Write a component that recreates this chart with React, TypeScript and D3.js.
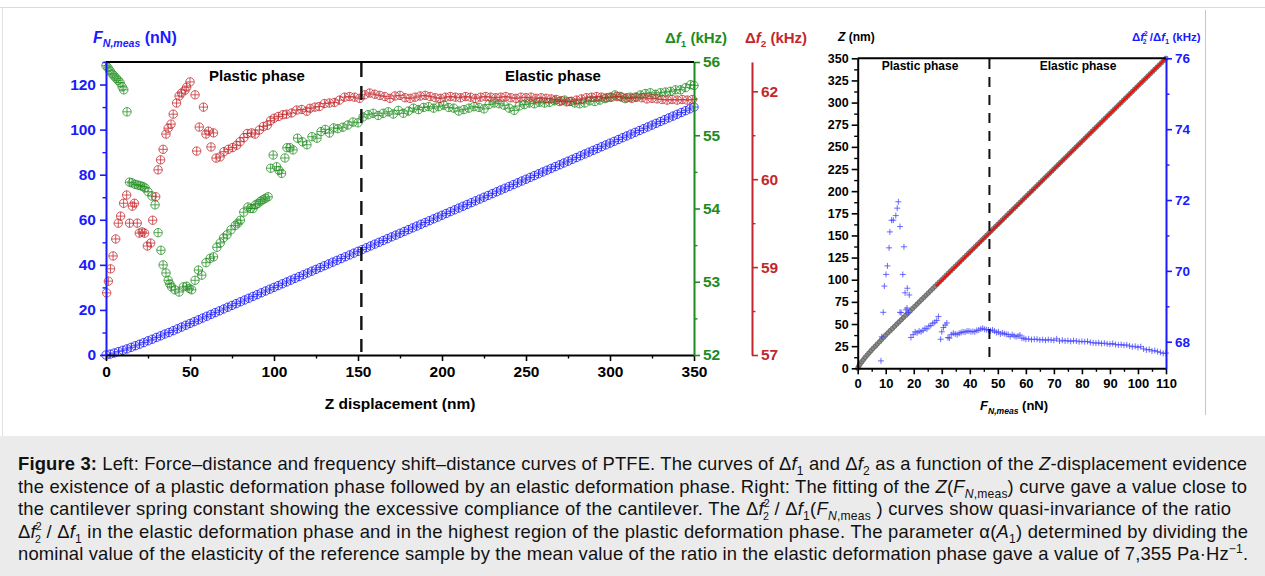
import React, { useEffect, useRef } from "react";
import * as d3 from "d3";

const FONT = "'Liberation Sans', Arial, sans-serif";
const BLUE = "#1a1aff";
const GREEN = "#1e8c1e";
const RED = "#c2272d";

// ---- left panel: F_N,meas, Δf1, Δf2 vs Z displacement ----
const zGrid = d3.range(0, 351, 2.5); // sampling positions of the force curve (nm)
const forceN = [
  0.0, 0.4, 0.9, 1.5, 2.1, 2.7, 3.4, 4.1, 4.8, 5.5, 6.3, 7.0, 7.8, 8.5, 9.3, 10.0, 10.8, 11.6, 12.4, 13.2, 14.0,
  14.8, 15.6, 16.4, 17.2, 18.0, 18.8, 19.6, 20.4, 21.2, 22.0, 22.8, 23.6, 24.4, 25.2, 26.0, 26.8, 27.6, 28.4, 29.2, 30.0,
  30.8, 31.6, 32.4, 33.2, 34.0, 34.8, 35.6, 36.4, 37.2, 38.0, 38.8, 39.6, 40.4, 41.2, 42.0, 42.8, 43.6, 44.4, 45.2, 46.0,
  46.8, 47.6, 48.4, 49.2, 50.0, 50.8, 51.6, 52.4, 53.2, 54.0, 54.8, 55.6, 56.4, 57.2, 58.0, 58.8, 59.6, 60.4, 61.2, 62.0,
  62.8, 63.6, 64.4, 65.2, 66.0, 66.8, 67.6, 68.4, 69.2, 70.0, 70.8, 71.6, 72.4, 73.2, 74.0, 74.8, 75.6, 76.4, 77.2, 78.0,
  78.8, 79.6, 80.4, 81.2, 82.0, 82.8, 83.6, 84.4, 85.2, 86.0, 86.8, 87.6, 88.4, 89.2, 90.0, 90.8, 91.6, 92.4, 93.2, 94.0,
  94.8, 95.6, 96.4, 97.2, 98.0, 98.8, 99.6, 100.4, 101.2, 102.0, 102.8, 103.6, 104.4, 105.2, 106.0, 106.8, 107.6, 108.4, 109.2, 110.0,
];

const df1Points: [number, number][] = [
  [0, 55.95], [1.2, 55.92], [2.4, 55.88], [3.6, 55.84], [4.8, 55.81], [6, 55.78], [7.2, 55.75], [8.4, 55.72], [9.6, 55.66],
  [10.6, 55.62], [12.5, 55.32], [14, 54.36], [15.5, 54.35], [17.3, 54.33], [19, 54.32], [20.5, 54.31], [22, 54.3], [23.2, 54.28],
  [25, 54.23], [27.4, 54.17], [29.2, 54.05], [31, 53.67], [32.7, 53.43], [34, 53.23], [35.7, 53.12], [37, 53.02], [38, 52.97],
  [39, 52.93], [41, 52.89], [43.5, 52.86], [46, 52.93], [48, 52.94], [49.5, 52.91], [51, 52.89], [53, 53.02], [55, 53.16],
  [57, 53.09], [59.5, 53.26], [62, 53.32], [64, 53.34], [66, 53.47], [68, 53.53], [70, 53.6], [72, 53.64], [74.4, 53.71],
  [77, 53.77], [78.5, 53.8], [80, 53.84], [82, 53.95], [84.5, 54.02], [86, 54.0], [87.5, 54.0], [89, 54.05], [90.5, 54.07],
  [92, 54.1], [93.5, 54.12], [95, 54.14], [96.5, 54.16], [98, 54.55], [99.5, 54.73], [101.5, 54.57], [103, 54.52], [104.5, 54.48],
  [106.5, 54.69], [107.7, 54.83], [109.5, 54.83], [111.3, 54.8], [114, 54.96], [117, 54.91], [119.6, 54.87], [122.6, 54.98],
  [125.6, 54.96], [128, 55.05], [130.5, 55.08], [133, 55.03], [135.5, 55.1], [138, 55.09], [141, 55.11], [144, 55.14],
  [147, 55.18], [150, 55.17], [153, 55.25], [156, 55.28], [159, 55.3], [162, 55.27], [165, 55.3], [168, 55.32], [171, 55.29],
  [174, 55.34], [177, 55.3], [180, 55.33], [183, 55.37], [186, 55.35], [189, 55.38], [192, 55.39], [195, 55.37], [198, 55.39],
  [201, 55.41], [204, 55.38], [207, 55.37], [210, 55.33], [213, 55.35], [216, 55.37], [219, 55.39], [222, 55.38], [225, 55.36],
  [228, 55.42], [231, 55.44], [234, 55.43], [237, 55.41], [240, 55.37], [243, 55.34], [246, 55.4], [249, 55.42], [252, 55.44],
  [255, 55.43], [258, 55.45], [261, 55.44], [264, 55.45], [267, 55.47], [270, 55.46], [273, 55.48], [276, 55.46], [279, 55.44],
  [282, 55.43], [285, 55.44], [288, 55.47], [291, 55.46], [294, 55.48], [297, 55.5], [300, 55.52], [303, 55.55], [306, 55.53],
  [309, 55.5], [312, 55.52], [315, 55.52], [318, 55.55], [321, 55.57], [324, 55.58], [327, 55.56], [330, 55.58], [333, 55.59],
  [336, 55.6], [339, 55.62], [342, 55.62], [345, 55.65], [348, 55.69], [350, 55.68],
];

const df2Points: [number, number][] = [
  [0.4, 58.06], [1.4, 58.26], [2.7, 58.47], [4.2, 58.69], [5.8, 58.98], [7.3, 59.25], [8.7, 59.37], [10.5, 59.59], [12.3, 59.73],
  [14, 59.25], [15.7, 59.54], [16.9, 59.59], [18.6, 59.25], [19.8, 59.08], [21.5, 59.1], [23, 59.08], [24.6, 58.86], [26.6, 58.91],
  [27.8, 59.3], [29.6, 59.7], [31, 60.16], [32.5, 60.33], [34, 60.51], [35.7, 60.77], [37, 60.87], [38.7, 60.94], [40, 61.11],
  [42, 61.3], [43.5, 61.42], [45, 61.47], [47, 61.52], [48, 61.57], [50, 61.66], [53, 61.44], [54, 60.48], [55.5, 60.89],
  [58, 61.23], [59.5, 60.77], [61, 60.82], [62.5, 60.55], [64, 60.79], [65.5, 60.36], [67.9, 60.38], [70.2, 60.47], [72.8, 60.51],
  [75.4, 60.54], [77.8, 60.58], [79.8, 60.64], [82.1, 60.71], [84.1, 60.78], [86.7, 60.79], [88.7, 60.77], [91.3, 60.84],
  [93.7, 60.9], [96, 60.92], [98, 61.0], [100, 61.04], [102.6, 61.07], [105.2, 61.1], [107.5, 61.11], [110.5, 61.13],
  [113.5, 61.18], [116.5, 61.19], [119.5, 61.16], [121.4, 61.21], [124.4, 61.23], [127, 61.24], [130, 61.29], [133, 61.3],
  [136, 61.31], [139, 61.35], [142, 61.4], [145, 61.41], [148, 61.4], [151, 61.38], [154, 61.44], [157, 61.47], [160, 61.45],
  [163, 61.43], [166, 61.41], [169, 61.38], [172, 61.42], [175, 61.43], [178, 61.39], [181, 61.38], [184, 61.4], [187, 61.42],
  [190, 61.43], [193, 61.41], [196, 61.39], [199, 61.38], [202, 61.4], [205, 61.41], [208, 61.4], [211, 61.39], [214, 61.41],
  [217, 61.4], [220, 61.38], [223, 61.4], [226, 61.41], [229, 61.4], [232, 61.39], [235, 61.4], [238, 61.41], [241, 61.39],
  [244, 61.38], [247, 61.4], [250, 61.39], [253, 61.4], [256, 61.38], [259, 61.39], [262, 61.38], [265, 61.37], [268, 61.36],
  [271, 61.34], [274, 61.32], [277, 61.33], [280, 61.35], [283, 61.37], [286, 61.39], [289, 61.4], [292, 61.41], [295, 61.4],
  [298, 61.39], [301, 61.4], [304, 61.41], [307, 61.4], [310, 61.39], [313, 61.38], [316, 61.4], [319, 61.39], [322, 61.37],
  [325, 61.38], [328, 61.37], [331, 61.36], [334, 61.35], [337, 61.36], [340, 61.35], [343, 61.36], [346, 61.35], [349, 61.36],
];

const zTicks = [0, 50, 100, 150, 200, 250, 300, 350];
const zMinor = [25, 75, 125, 175, 225, 275, 325];
const fTicks = [0, 20, 40, 60, 80, 100, 120];
const fMinor = [10, 30, 50, 70, 90, 110, 130];
const df1Ticks = [52, 53, 54, 55, 56];
const df1Minor = [52.5, 53.5, 54.5, 55.5];
const df2Ticks = [57, 58.5, 60, 61.5];
const df2Labels = ["57", "59", "60", "62"];
const df2Minor = [57.75, 59.25, 60.75];
const plasticEndZ = 152;

// ---- right panel: Z and Δf2²/Δf1 vs F_N,meas ----
const ratioPoints: [number, number][] = [
  [8.3, 67.46], [8.6, 68.14], [9.1, 68.83], [9.5, 69.57], [10.1, 69.9], [10.6, 70.14], [11.2, 70.65], [11.5, 71.1],
  [12.1, 71.43], [12.7, 71.43], [13.6, 71.56], [14.1, 71.77], [14.5, 71.95], [15.1, 71.25], [15.1, 68.83], [15.5, 68.82],
  [16.1, 69.9], [16.5, 70.68], [16.9, 69.38], [17.2, 68.9], [17.7, 69.51], [17.6, 68.95], [18.1, 68.82], [18.4, 69.32],
  [19.0, 68.12], [19.8, 68.2], [20.5, 68.28], [21.2, 68.25], [21.9, 68.3], [22.6, 68.28], [23.3, 68.32], [24.0, 68.38],
  [24.7, 68.36], [25.4, 68.44], [26.1, 68.46], [26.8, 68.52], [27.5, 68.55], [28.2, 68.6], [28.8, 68.71], [29.6, 68.07],
  [30.0, 68.28], [30.6, 68.4], [31.2, 68.47], [31.8, 68.53], [32.2, 68.12], [32.7, 68.1], [33.4, 68.2], [34.1, 68.24],
  [34.8, 68.22], [35.5, 68.2], [36.2, 68.24], [36.9, 68.26], [37.6, 68.28], [38.3, 68.27], [39.0, 68.3], [39.7, 68.3],
  [40.4, 68.28], [41.1, 68.29], [41.8, 68.28], [42.5, 68.32], [43.2, 68.33], [43.9, 68.36], [44.6, 68.38], [45.3, 68.35],
  [46.0, 68.34], [46.7, 68.33], [47.4, 68.31], [48.1, 68.33], [48.8, 68.3], [49.5, 68.26], [50.2, 68.28], [50.9, 68.22],
  [51.6, 68.25], [52.3, 68.23], [53.0, 68.21], [53.7, 68.2], [54.4, 68.15], [55.1, 68.2], [55.8, 68.17], [56.5, 68.14],
  [57.2, 68.16], [57.9, 68.19], [58.6, 68.1], [59.3, 68.1], [60, 68.07], [61, 68.08], [62, 68.06], [63, 68.07], [64, 68.07],
  [65, 68.05], [66, 68.06], [67, 68.04], [68, 68.06], [69, 68.05], [70, 68.04], [71, 68.08], [72, 68.02], [73, 68.04],
  [74, 68.02], [75, 68.03], [76, 68.01], [77, 68.03], [78, 68.02], [79, 68.0], [80, 68.01], [81, 68.0], [82, 68.01],
  [83, 67.98], [84, 67.97], [85, 67.96], [86, 67.97], [87, 67.95], [88, 67.96], [89, 67.94], [90, 67.93], [91, 67.95],
  [92, 67.92], [93, 67.91], [94, 67.92], [95, 67.9], [96, 67.91], [97, 67.88], [98, 67.86], [99, 67.87], [100, 67.84],
  [101, 67.86], [102, 67.8], [103, 67.77], [104, 67.78], [105, 67.74], [106, 67.75], [107, 67.72], [108, 67.7], [109, 67.67],
  [110, 67.68],
];
const fitLine: [number, number][] = [[28, 93], [110, 350]];
const fnTicks = [0, 10, 20, 30, 40, 50, 60, 70, 80, 90, 100, 110];
const fnMinor = [5, 15, 25, 35, 45, 55, 65, 75, 85, 95, 105];
const zrTicks = [0, 25, 50, 75, 100, 125, 150, 175, 200, 225, 250, 275, 300, 325, 350];
const zrMinor = zrTicks.slice(0, -1).map((t) => t + 12.5);
const ratioTicks = [68, 70, 72, 74, 76];
const ratioMinor = [69, 71, 73, 75];
const plasticEndF = 47;

// s: small stacked script (the squared/indexed "2" pair)
type Seg = { t: string; b?: boolean; i?: boolean; sub?: boolean; sup?: boolean; dx?: number; s?: boolean };

const captionLines: Seg[][] = [
  [
    { t: "Figure 3:", b: true },
    { t: " Left: Force–distance and frequency shift–distance curves of PTFE. The curves of Δ" },
    { t: "f", i: true }, { t: "1", sub: true }, { t: " and Δ" }, { t: "f", i: true }, { t: "2", sub: true },
    { t: " as a function of the " }, { t: "Z", i: true }, { t: "-displacement evidence" },
  ],
  [
    { t: "the existence of a plastic deformation phase followed by an elastic deformation phase. Right: The fitting of the " },
    { t: "Z", i: true }, { t: "(" }, { t: "F", i: true }, { t: "N", i: true, sub: true }, { t: ",meas", sub: true },
    { t: ") curve gave a value close to" },
  ],
  [
    { t: "the cantilever spring constant showing the excessive compliance of the cantilever. The  Δ" },
    { t: "f", i: true }, { t: "2", sup: true, s: true }, { t: "2", sub: true, s: true, dx: -7 }, { t: " / Δ" }, { t: "f", i: true },
    { t: "1", sub: true }, { t: "(" }, { t: "F", i: true }, { t: "N", i: true, sub: true }, { t: ",meas", sub: true },
    { t: " ) curves show quasi-invariance of the ratio" },
  ],
  [
    { t: " Δ" }, { t: "f", i: true }, { t: "2", sup: true, s: true }, { t: "2", sub: true, s: true, dx: -7 }, { t: " / Δ" },
    { t: "f", i: true }, { t: "1", sub: true },
    { t: " in the elastic deformation phase and in the highest region of the plastic deformation phase. The parameter α(" },
    { t: "A", i: true }, { t: "1", sub: true }, { t: ") determined by dividing the" },
  ],
  [
    { t: "nominal value of the elasticity of the reference sample by the mean value of the ratio in the elastic deformation phase gave a value of 7,355 Pa·Hz" },
    { t: "−1", sup: true }, { t: "." },
  ],
];
const captionWidths = [1229, 1229, 1213, 1230, 1230];

function rich(sel: any, segs: Seg[], size: number) {
  let cur = 0;
  segs.forEach((s) => {
    const target = s.sub ? size * 0.27 : s.sup ? -size * (s.s ? 0.42 : 0.38) : 0;
    const ts = sel.append("tspan").attr("dy", target - cur).text(s.t);
    cur = target;
    if (s.i) ts.attr("font-style", "italic");
    if (s.b) ts.attr("font-weight", "bold");
    if (s.sub || s.sup) ts.attr("font-size", size * (s.s ? 0.58 : 0.66));
    if (s.dx) ts.attr("dx", s.dx);
  });
}

function drawAxis(root: any, kind: string, scale: any, at: number, major: number[], minor: number[], color: string, size: number, pad: number, labels?: string[]) {
  const mk = kind === "left" ? d3.axisLeft : kind === "right" ? d3.axisRight : d3.axisBottom;
  const tr = kind === "bottom" ? `translate(0,${at})` : `translate(${at},0)`;
  const gm = root.append("g").attr("transform", tr).attr("color", color)
    .call(mk(scale).tickValues(minor).tickSize(3.5).tickSizeOuter(0).tickFormat(() => ""));
  gm.select(".domain").remove();
  gm.selectAll(".tick line").attr("stroke-width", 1.4);
  const g = root.append("g").attr("transform", tr).attr("color", color)
    .call(mk(scale).tickValues(major).tickSize(6).tickSizeOuter(0).tickPadding(pad)
      .tickFormat((d: any, i: number) => (labels ? labels[i] : String(d))));
  g.attr("font-family", FONT).attr("font-weight", "bold").attr("font-size", size);
  g.select(".domain").attr("stroke-width", 2);
  g.selectAll(".tick line").attr("stroke-width", 1.6);
}

function circlePlus(root: any, data: [number, number][], x: any, y: any, color: string) {
  const r = 4.2;
  const m = root.append("g").attr("fill", "none").attr("stroke", color).attr("stroke-width", 0.9).attr("stroke-opacity", 0.85)
    .selectAll("g").data(data).join("g")
    .attr("transform", (d: [number, number]) => `translate(${x(d[0])},${y(d[1])})`);
  m.append("circle").attr("r", r);
  m.append("path").attr("d", `M${-r},0H${r}M0,${-r}V${r}`);
}

export default function App() {
  const ref = useRef<SVGSVGElement>(null);

  useEffect(() => {
    const svg = d3.select(ref.current);
    svg.selectAll("*").remove();

    // frame / background
    svg.append("rect").attr("width", 1265).attr("height", 576).attr("fill", "#fff");
    svg.append("line").attr("x1", 0).attr("x2", 1265).attr("y1", 7.5).attr("y2", 7.5).attr("stroke", "#dcdcdc");
    svg.append("line").attr("x1", 2.5).attr("x2", 2.5).attr("y1", 7).attr("y2", 437).attr("stroke", "#e2e2e2");
    svg.append("line").attr("x1", 1205.5).attr("x2", 1205.5).attr("y1", 10).attr("y2", 415).attr("stroke", "#c8c8c8");

    // ===== left panel =====
    const L = svg.append("g");
    const x = d3.scaleLinear().domain([0, 350]).range([106, 694]);
    const yF = d3.scaleLinear().domain([0, 130]).range([355, 62]);
    const yG = d3.scaleLinear().domain([52, 56]).range([355, 62]);
    const yR = d3.scaleLinear().domain([57, 62]).range([355, 62]);

    const forcePts: [number, number][] = zGrid.map((z, i) => [z, forceN[i]]);
    circlePlus(L, forcePts, x, yF, BLUE);
    circlePlus(L, df1Points, x, yG, GREEN);
    circlePlus(L, df2Points, x, yR, RED);

    L.append("line").attr("x1", x(plasticEndZ)).attr("x2", x(plasticEndZ)).attr("y1", 63).attr("y2", 352)
      .attr("stroke", "#111").attr("stroke-width", 2.4).attr("stroke-dasharray", "14,9");

    L.append("line").attr("x1", 106).attr("x2", 694).attr("y1", 62).attr("y2", 62).attr("stroke", "#000").attr("stroke-width", 2);
    drawAxis(L, "bottom", x, 355, zTicks, zMinor, "#000", 15.5, 5);
    drawAxis(L, "left", yF, 106, fTicks, fMinor, BLUE, 15.5, 4);
    drawAxis(L, "right", yG, 694, df1Ticks, df1Minor, GREEN, 15.5, 3);
    drawAxis(L, "right", yR, 752, df2Ticks, df2Minor, RED, 15.5, 3, df2Labels);

    L.append("text").attr("x", 257).attr("y", 81).attr("text-anchor", "middle").attr("font-family", FONT)
      .attr("font-weight", "bold").attr("font-size", 15).text("Plastic phase");
    L.append("text").attr("x", 553).attr("y", 81).attr("text-anchor", "middle").attr("font-family", FONT)
      .attr("font-weight", "bold").attr("font-size", 15).text("Elastic phase");

    const t1 = L.append("text").attr("x", 93).attr("y", 43).attr("fill", BLUE).attr("font-family", FONT)
      .attr("font-weight", "bold").attr("font-size", 16);
    rich(t1, [{ t: "F", i: true }, { t: "N,meas", i: true, sub: true }, { t: " (nN)" }], 16);
    const t2 = L.append("text").attr("x", 665).attr("y", 43).attr("fill", GREEN).attr("font-family", FONT)
      .attr("font-weight", "bold").attr("font-size", 15);
    rich(t2, [{ t: "Δ" }, { t: "f", i: true }, { t: "1", sub: true }, { t: " (kHz)" }], 15);
    const t3 = L.append("text").attr("x", 745).attr("y", 43).attr("fill", RED).attr("font-family", FONT)
      .attr("font-weight", "bold").attr("font-size", 15);
    rich(t3, [{ t: "Δ" }, { t: "f", i: true }, { t: "2", sub: true }, { t: " (kHz)" }], 15);
    L.append("text").attr("x", 400).attr("y", 409).attr("text-anchor", "middle").attr("font-family", FONT)
      .attr("font-weight", "bold").attr("font-size", 15.5).text("Z displacement (nm)");

    // ===== right panel =====
    const R = svg.append("g");
    const xf = d3.scaleLinear().domain([0, 110]).range([857.7, 1166]);
    const yZ = d3.scaleLinear().domain([0, 350]).range([368.3, 58.3]);
    const yQ = d3.scaleLinear().domain([67.25, 76]).range([368.3, 58.3]);

    R.append("g").attr("fill", "#8a8a8a").attr("stroke", "#505050").attr("stroke-width", 0.6)
      .selectAll("circle").data(forcePts).join("circle")
      .attr("cx", (d) => xf(d[1])).attr("cy", (d) => yZ(d[0])).attr("r", 2.3);

    R.append("path").datum(fitLine).attr("fill", "none").attr("stroke", "#e8120c").attr("stroke-width", 2.2)
      .attr("d", d3.line<[number, number]>().x((d) => xf(d[0])).y((d) => yZ(d[1])));

    R.append("g").attr("stroke", "#4646ff").attr("stroke-opacity", 0.8).attr("stroke-width", 1)
      .selectAll("path").data(ratioPoints).join("path")
      .attr("d", (d) => `M${xf(d[0]) - 3},${yQ(d[1])}h6M${xf(d[0])},${yQ(d[1]) - 3}v6`);

    R.append("line").attr("x1", xf(plasticEndF)).attr("x2", xf(plasticEndF)).attr("y1", 59).attr("y2", 360)
      .attr("stroke", "#111").attr("stroke-width", 2).attr("stroke-dasharray", "10,8");

    R.append("line").attr("x1", 857.7).attr("x2", 1166).attr("y1", 58.3).attr("y2", 58.3).attr("stroke", "#000").attr("stroke-width", 2);
    drawAxis(R, "bottom", xf, 368.3, fnTicks, fnMinor, "#000", 13, 4);
    drawAxis(R, "left", yZ, 857.7, zrTicks, zrMinor, "#000", 12.5, 3);
    drawAxis(R, "right", yQ, 1166, ratioTicks, ratioMinor, BLUE, 13.5, 3);

    R.append("text").attr("x", 920).attr("y", 70).attr("text-anchor", "middle").attr("font-family", FONT)
      .attr("font-weight", "bold").attr("font-size", 12).text("Plastic phase");
    R.append("text").attr("x", 1078).attr("y", 70).attr("text-anchor", "middle").attr("font-family", FONT)
      .attr("font-weight", "bold").attr("font-size", 12).text("Elastic phase");

    const r1 = R.append("text").attr("x", 838).attr("y", 41).attr("font-family", FONT).attr("font-weight", "bold").attr("font-size", 12);
    rich(r1, [{ t: "Z", i: true }, { t: " (nm)" }], 12);
    const r2 = R.append("text").attr("x", 1132).attr("y", 41).attr("fill", BLUE).attr("font-family", FONT)
      .attr("font-weight", "bold").attr("font-size", 11.5);
    rich(r2, [{ t: "Δ" }, { t: "f", i: true }, { t: "2", sup: true, s: true }, { t: "2", sub: true, s: true, dx: -5 }, { t: " /Δ" },
      { t: "f", i: true }, { t: "1", sub: true }, { t: " (kHz)" }], 11.5);
    const r3 = R.append("text").attr("x", 980).attr("y", 410).attr("font-family", FONT).attr("font-weight", "bold").attr("font-size", 13);
    rich(r3, [{ t: "F", i: true }, { t: "N,meas", i: true, sub: true }, { t: " (nN)" }], 13);

    // ===== caption =====
    svg.append("rect").attr("x", 0).attr("y", 436).attr("width", 1265).attr("height", 140).attr("fill", "#ebebeb");
    captionLines.forEach((segs, i) => {
      const t = svg.append("text").attr("x", 18).attr("y", 470 + i * 22.6).attr("font-family", FONT)
        .attr("font-size", 18.4).attr("fill", "#111")
        .attr("textLength", captionWidths[i]).attr("lengthAdjust", "spacing");
      rich(t, segs, 18.4);
    });
  }, []);

  return (
    <div style={{ position: "absolute", left: 0, top: 0 }}>
      <svg ref={ref} width={1265} height={576} style={{ display: "block" }} />
    </div>
  );
}
